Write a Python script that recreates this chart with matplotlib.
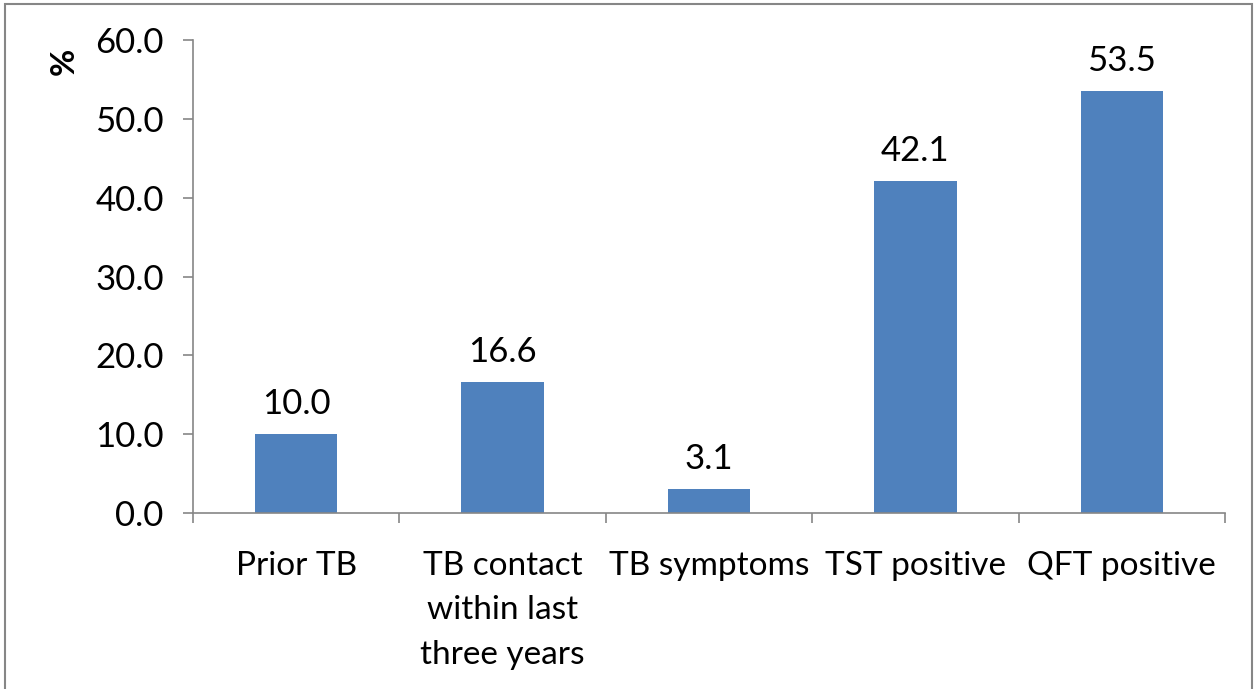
import matplotlib
matplotlib.use("Agg")
import matplotlib.pyplot as plt
from matplotlib.patches import Rectangle
import numpy as np

categories = ["Prior TB", "TB contact\nwithin last\nthree years", "TB symptoms",
              "TST positive", "QFT positive"]
values = [10.0, 16.6, 3.1, 42.1, 53.5]
yticks = [0, 10, 20, 30, 40, 50, 60]

BAR = "#4F81BD"
AXC = "#868686"
FONT = "Lato"

W, H = 1256, 689
fig = plt.figure(figsize=(W / 100, H / 100), dpi=100)
ax = fig.add_axes([193 / W, 1 - 513 / H, (1225 - 193) / W, (513 - 40) / H])

x = np.arange(len(categories))
ax.bar(x, values, width=0.4, color=BAR, zorder=2)
for xi, v in zip(x, values):
    ax.annotate(f"{v:.1f}", (xi, v), xytext=(0, 10), textcoords="offset points",
                ha="center", va="bottom", fontsize=25, family=FONT)

ax.set_xlim(-0.5, len(categories) - 0.5)
ax.set_ylim(0, 60)
ax.set_yticks(yticks)
ax.set_yticklabels([f"{t:.1f}" for t in yticks], fontsize=25, family=FONT)
ax.tick_params(axis="y", length=7, color=AXC, width=1.2, pad=14)

# category labels centered, ticks between categories
ax.set_xticks(np.arange(len(categories) + 1) - 0.5)
ax.set_xticklabels([])
ax.tick_params(axis="x", length=7, color=AXC, width=1.2)
for xi, lab in zip(x, categories):
    ax.text(xi, -0.08, lab, transform=ax.get_xaxis_transform(), ha="center",
            va="top", fontsize=24, family=FONT, linespacing=1.6)

for s in ["top", "right"]:
    ax.spines[s].set_visible(False)
for s in ["left", "bottom"]:
    ax.spines[s].set_color(AXC)
    ax.spines[s].set_linewidth(1.2)

fig.text(64 / W, 1 - 61 / H, "%", rotation=90, ha="center", va="center",
         fontsize=24, fontweight="bold", family=FONT)

# outer chart border
fig.patches.append(Rectangle((5 / W, -0.01), (1252 - 5) / W, 1 - 4 / H + 0.01,
                             transform=fig.transFigure, fill=False,
                             edgecolor=AXC, linewidth=1.5))

fig.savefig("out.png", dpi=100)
